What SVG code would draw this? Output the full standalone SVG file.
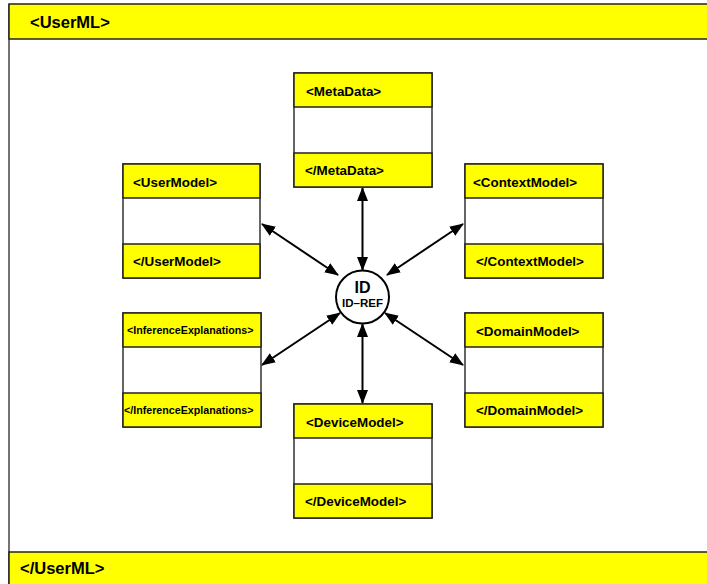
<svg xmlns="http://www.w3.org/2000/svg" width="707" height="584" viewBox="0 0 707 584">
<style>
.bar{fill:#ffff00;stroke:#222;stroke-width:1.5}
.mid{fill:#fff;stroke:#333;stroke-width:1.5}
.t{font-family:"Liberation Sans",Arial,sans-serif;font-weight:bold;fill:#000}
.big{font-size:16.5px}
.lbl{font-size:13.4px}
.sm{font-size:10.7px}
.arr{stroke:#000;stroke-width:2;fill:none;marker-start:url(#ah);marker-end:url(#ah)}
</style>
<defs>
<marker id="ah" viewBox="0 0 14 11" refX="13" refY="5.5" markerWidth="14" markerHeight="11" markerUnits="userSpaceOnUse" orient="auto-start-reverse">
<path d="M0,0 L14,5.5 L0,11 z" fill="#000"/>
</marker>
</defs>
<rect width="707" height="584" fill="#fff"/>
<g id="frame">
<line x1="9" y1="4" x2="9" y2="584" stroke="#444" stroke-width="1.5"/>
<rect class="bar" x="9" y="4" width="710" height="35"/>
<text class="t big" x="30" y="28">&lt;UserML&gt;</text>
<rect class="bar" x="9" y="552" width="710" height="40"/>
<text class="t big" x="20" y="574">&lt;/UserML&gt;</text>
</g>
<g id="connectors">
<line class="arr" x1="362.5" y1="188" x2="362.5" y2="270"/>
<line class="arr" x1="362.5" y1="324" x2="362.5" y2="403"/>
<line class="arr" x1="262" y1="224" x2="338" y2="275"/>
<line class="arr" x1="463" y1="224" x2="387" y2="275"/>
<line class="arr" x1="262" y1="365" x2="340" y2="313"/>
<line class="arr" x1="463" y1="365" x2="385" y2="313"/>
</g>
<g id="metadata">
<rect class="mid" x="294" y="73" width="138" height="114"/>
<rect class="bar" x="294" y="73" width="138" height="34"/>
<rect class="bar" x="294" y="153" width="138" height="34"/>
<text class="t lbl" x="306" y="96">&lt;MetaData&gt;</text>
<text class="t lbl" x="305" y="175">&lt;/MetaData&gt;</text>
</g>
<g id="usermodel">
<rect class="mid" x="123" y="164" width="137" height="114"/>
<rect class="bar" x="123" y="164" width="137" height="34"/>
<rect class="bar" x="123" y="244" width="137" height="34"/>
<text class="t lbl" x="133" y="187">&lt;UserModel&gt;</text>
<text class="t lbl" x="133" y="266">&lt;/UserModel&gt;</text>
</g>
<g id="contextmodel">
<rect class="mid" x="465" y="164" width="138" height="114"/>
<rect class="bar" x="465" y="164" width="138" height="34"/>
<rect class="bar" x="465" y="244" width="138" height="34"/>
<text class="t lbl" x="473" y="187">&lt;ContextModel&gt;</text>
<text class="t lbl" x="476" y="266">&lt;/ContextModel&gt;</text>
</g>
<g id="inference">
<rect class="mid" x="123" y="313" width="138" height="114"/>
<rect class="bar" x="123" y="313" width="138" height="34"/>
<rect class="bar" x="123" y="393" width="138" height="34"/>
<text class="t sm" x="127" y="334">&lt;InferenceExplanations&gt;</text>
<text class="t sm" x="124" y="414">&lt;/InferenceExplanations&gt;</text>
</g>
<g id="domainmodel">
<rect class="mid" x="465" y="313" width="138" height="114"/>
<rect class="bar" x="465" y="313" width="138" height="34"/>
<rect class="bar" x="465" y="393" width="138" height="34"/>
<text class="t lbl" x="476" y="336">&lt;DomainModel&gt;</text>
<text class="t lbl" x="476" y="415">&lt;/DomainModel&gt;</text>
</g>
<g id="devicemodel">
<rect class="mid" x="294" y="404" width="138" height="114"/>
<rect class="bar" x="294" y="404" width="138" height="34"/>
<rect class="bar" x="294" y="484" width="138" height="34"/>
<text class="t lbl" x="306" y="427">&lt;DeviceModel&gt;</text>
<text class="t lbl" x="305" y="506">&lt;/DeviceModel&gt;</text>
</g>
<g id="id">
<circle cx="362.5" cy="297" r="26.5" fill="#fff" stroke="#000" stroke-width="2"/>
<text class="t" x="362.5" y="293" font-size="16" text-anchor="middle">ID</text>
<text class="t" x="362.5" y="307" font-size="11.5" text-anchor="middle">ID–REF</text>
</g>
</svg>
